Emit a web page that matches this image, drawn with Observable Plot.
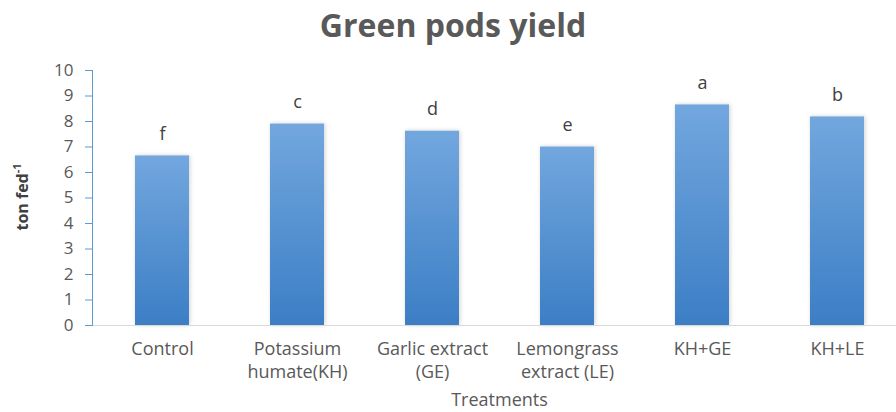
<!DOCTYPE html>
<html>
<head>
<meta charset="utf-8">
<script src="https://cdn.jsdelivr.net/npm/d3@7"></script>
<script src="https://cdn.jsdelivr.net/npm/@observablehq/plot@0.6"></script>
<style>
  html, body { margin: 0; padding: 0; background: #fff; }
  #title { width: 896px; height: 56px; line-height: 50px; text-align: center; padding-left: 10px; box-sizing: border-box;
           font-family: "Open Sans", sans-serif; font-weight: 700; font-size: 32px; color: #595959; }
  svg { display: block; }
</style>
</head>
<body>
<div id="title">Green pods yield</div>
<div id="chart"></div>
<script>
const categories = ["Control", "Potassium\nhumate(KH)", "Garlic extract\n(GE)", "Lemongrass\nextract (LE)", "KH+GE", "KH+LE"];
const yields = [6.65, 7.9, 7.62, 7.0, 8.65, 8.18];
const letters = ["f", "c", "d", "e", "a", "b"];
const yTicks = [0, 1, 2, 3, 4, 5, 6, 7, 8, 9, 10];

const data = categories.map((c, i) => ({category: c, value: yields[i], letter: letters[i]}));

const font = "Open Sans, sans-serif";
const plot = Plot.plot({
  width: 896,
  height: 356,
  marginTop: 14,
  marginBottom: 87,
  marginLeft: 92,
  marginRight: 0,
  style: {fontFamily: font, fontSize: "17px", background: "#fff"},
  x: {domain: categories, range: [92, 906], paddingInner: 0.6, paddingOuter: 0.3, label: null},
  y: {domain: [0, 10], label: null},
  marks: [
    Plot.barY(data, {x: "category", y: "value", fill: "url(#barGrad)"}),
    Plot.ruleY([0], {stroke: "#d9d9d9", strokeWidth: 1.2}),
    Plot.frame({anchor: "left", stroke: "#5b9bd5"}),
    Plot.axisY({ticks: yTicks, tickSize: 7, tickPadding: 12, stroke: "#5b9bd5", fill: "#595959", fontSize: 17, label: null}),
    Plot.axisX({tickSize: 0, tickPadding: 14, fill: "#595959", fontSize: 18, lineHeight: 1.25, label: null}),
    Plot.text(data, {x: "category", y: "value", text: "letter", dy: -22, fill: "#404040", fontSize: 18}),
    Plot.text(["Treatments"], {frameAnchor: "bottom", dy: 80, dx: 5, fill: "#595959", fontSize: 18})
  ]
});

const svg = d3.select(plot);
const defs = svg.insert("defs", ":first-child");
const g = defs.append("linearGradient").attr("id", "barGrad").attr("x1", 0).attr("y1", 0).attr("x2", 0).attr("y2", 1);
g.append("stop").attr("offset", "0%").attr("stop-color", "#72a7de");
g.append("stop").attr("offset", "100%").attr("stop-color", "#3c7ec5");
const f = defs.append("filter").attr("id", "shadow").attr("x", "-20%").attr("y", "-20%").attr("width", "140%").attr("height", "140%");
f.append("feDropShadow").attr("dx", 1).attr("dy", 0).attr("stdDeviation", 2).attr("flood-color", "#000").attr("flood-opacity", 0.18);
svg.selectAll("rect").filter(function() { return this.getAttribute("fill") === "url(#barGrad)" || this.parentNode.getAttribute("fill") === "url(#barGrad)"; })
   .attr("filter", "url(#shadow)");

// y-axis title with superscript
const yt = svg.append("text")
  .attr("transform", "translate(28,141) rotate(-90)")
  .attr("text-anchor", "middle")
  .attr("font-family", font).attr("font-weight", 700).attr("font-size", 16).attr("fill", "#404040");
yt.append("tspan").text("ton fed");
yt.append("tspan").attr("font-size", 11).attr("dy", -7).text("-1");

document.getElementById("chart").appendChild(plot);
</script>
</body>
</html>
